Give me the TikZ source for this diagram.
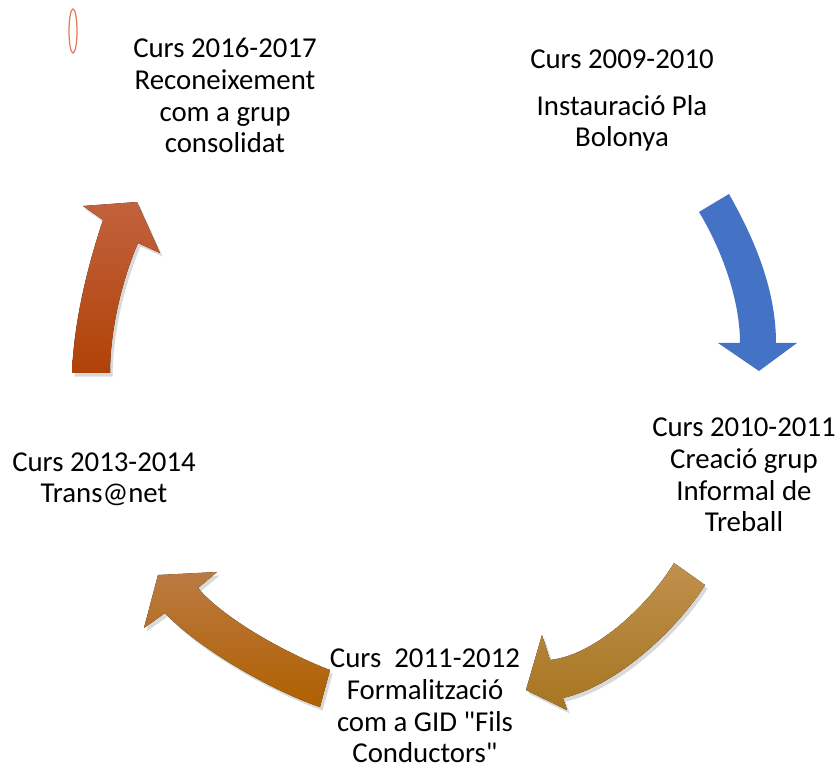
\documentclass[tikz,border=0pt]{standalone}
\usepackage{fontspec}
\setmainfont{Carlito}[Ligatures=TeXOff]
\usetikzlibrary{shadows}

\definecolor{arrblue}{RGB}{68,114,196}
\definecolor{goldtop}{RGB}{192,144,78}
\definecolor{goldbot}{RGB}{166,118,32}
\definecolor{browntop}{RGB}{186,122,66}
\definecolor{brownbot}{RGB}{176,96,0}
\definecolor{redtop}{RGB}{194,98,62}
\definecolor{redbot}{RGB}{176,66,6}
\definecolor{markred}{RGB}{226,120,92}

\tikzset{
  stage/.style={align=center,anchor=base,inner sep=0pt,
    font=\fontsize{16.4}{18.2}\selectfont},
  shade/.style={drop shadow={opacity=.3,shadow xshift=1.5pt,shadow yshift=-2pt}}
}

\begin{document}
\begin{tikzpicture}[x=0.02cm,y=-0.02cm]

        \useasboundingbox (0,0) rectangle (840,770);

        % small mark top left
        \draw[markred,line width=0.7pt] (73,31) ellipse [x radius=4, y radius=22];

        % labels (placed at the baseline of their last line)
        \begin{scope}[every node/.style={stage}]
          \node (c1617) at (225,153) {Curs 2016-2017\\Reconeixement\\com a grup\\consolidat};
          \node (c0910) at (622,147) {Curs 2009-2010\\[8.5pt]Instauració Pla\\Bolonya};
          \node (c1011) at (744,532) {Curs 2010-2011\\Creació grup\\Informal de\\Treball};
          \node (c1112) at (425,763) {Curs~~2011-2012\\Formalització\\com a GID "Fils\\Conductors"};
          \node (c1314) at (104,503) {Curs 2013-2014\\Trans@net};
        \end{scope}

        % curved arrows
        \fill[arrblue] (699,212) -- (729,194) .. controls (755,240) and (776,290) .. (776,343)
          -- (797,343) -- (759,371) -- (718,343) -- (740,343)
          .. controls (740,300) and (722,250) .. (699,212) -- cycle;

        \fill[shade,top color=goldtop,bottom color=goldbot] (674,563) -- (705,585)
          .. controls (680,625) and (620,685) .. (563,698)
          -- (567,710) -- (526,690) -- (542,635) -- (550,660)
          .. controls (598,655) and (652,600) .. (674,563) -- cycle;

        \fill[shade,top color=browntop,bottom color=brownbot] (330,670)
          .. controls (290,655) and (225,620) .. (198,588)
          -- (217,572) -- (158,575) -- (144,628) -- (165,613)
          .. controls (200,650) and (275,692) .. (320,707) -- cycle;

        \fill[shade,top color=redtop,bottom color=redbot] (72,373)
          .. controls (74,320) and (88,265) .. (103,220)
          -- (83,206) -- (137,202) -- (160,253) -- (138,243)
          .. controls (122,280) and (110,330) .. (110,373) -- cycle;

      \end{tikzpicture}
\end{document}
